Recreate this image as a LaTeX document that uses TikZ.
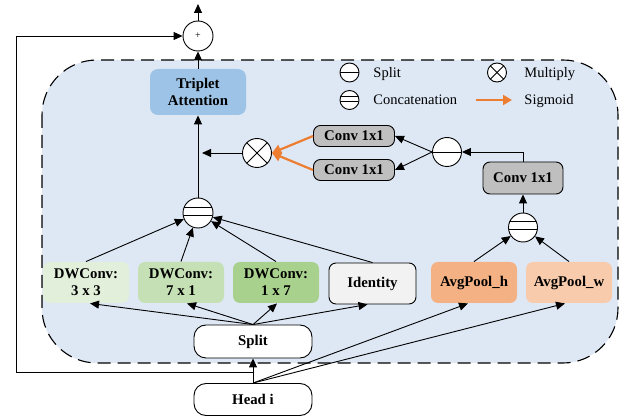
\documentclass[tikz,border=0pt]{standalone}
\usepackage{fontspec}
\setmainfont{Liberation Serif}
\usetikzlibrary{arrows.meta}
\definecolor{framebg}{RGB}{222,232,245}
\definecolor{tacol}{RGB}{157,195,230}
\definecolor{convcol}{RGB}{191,191,191}
\definecolor{dwa}{RGB}{226,239,218}
\definecolor{dwb}{RGB}{197,224,180}
\definecolor{dwc}{RGB}{169,209,142}
\definecolor{idcol}{RGB}{242,242,242}
\definecolor{phcol}{RGB}{244,177,131}
\definecolor{pwcol}{RGB}{248,203,173}
\definecolor{orcol}{RGB}{237,125,49}
\newcommand{\boxfont}{\fontsize{14.8}{17}\selectfont\bfseries}
\tikzset{
  box/.style={rectangle, rounded corners=7pt, minimum width=86pt, minimum height=41pt,
    inner sep=1pt, align=center, font=\boxfont},
  gbox/.style={box, draw, fill=convcol, minimum width=81pt, minimum height=21pt},
  obox/.style={box, draw, fill=white, rounded corners=12pt, minimum width=118pt, minimum height=32pt},
  circ/.style={circle, draw, fill=white, minimum size=30pt, inner sep=0pt},
  splc/.style={circ, path picture={
    \draw (path picture bounding box.west) -- (path picture bounding box.east);}},
  catc/.style 2 args={circ, path picture={
    \draw ([yshift=#1]path picture bounding box.west) -- ([yshift=#1]path picture bounding box.east);
    \draw ([yshift=#2]path picture bounding box.west) -- ([yshift=#2]path picture bounding box.east);}},
  mulc/.style={circ, path picture={
    \draw (path picture bounding box.north west) -- (path picture bounding box.south east);
    \draw (path picture bounding box.south west) -- (path picture bounding box.north east);}},
  sig/.style={draw=orcol, line width=2.2pt, -{Triangle[length=9pt,width=10pt]}, orcol},
  legend/.style={anchor=base west, inner sep=0pt},
}
\begin{document}
\begin{tikzpicture}[x=1pt, y=-1pt, >={Triangle[length=9pt,width=8pt]}, line width=0.9pt,
    font=\fontsize{14.5}{17}\selectfont]
  \useasboundingbox (0,0) rectangle (633,417);
  % Dashed frame
  \draw[fill=framebg, dash pattern=on 13pt off 7pt, line width=1.1pt, rounded corners=55pt]
    (42,60) rectangle (618,363);
  % Legend
  \node[splc, minimum size=19pt] (lsp) at (349.5,72.5) {};
  \node[legend] (lspt) at (373,77.5) {Split};
  \node[catc={3.5pt}{-1.5pt}, minimum size=19pt] (lcat) at (349.5,100) {};
  \node[legend] (lcatt) at (373,105) {Concatenation};
  \node[mulc, minimum size=19pt] (lmul) at (497,72.5) {};
  \node[legend] (lmult) at (524,77.5) {Multiply};
  \coordinate (lsa) at (476,100);
  \coordinate (lsb) at (512,100);
  \draw[sig] (lsa) -- (lsb);
  \node[legend] (lsigt) at (524,105) {Sigmoid};
  % Top part
  \node[circ, font=\fontsize{10}{10}\selectfont] (plus) at (198,36) {+};
  \node[box, fill=tacol, minimum width=96pt, minimum height=46pt, rounded corners=8pt] (ta) at (198,92) {Triplet\\Attention};
  \node[catc={6pt}{-2pt}] (cat) at (198,213) {};
  \node[mulc, minimum size=29pt] (mul) at (257,153) {};
  \node[gbox] (c1) at (354,136) {Conv 1x1};
  \node[gbox] (c2) at (354,170) {Conv 1x1};
  \node[splc, minimum size=29pt] (spl) at (447,152) {};
  \node[gbox, minimum width=80pt, minimum height=32pt] (cr) at (523,178) {Conv 1x1};
  \node[catc={6pt}{-2pt}, minimum size=29pt] (cat2) at (523,227.5) {};
  % Branches
  \foreach \n/\x/\c/\t in {d1/86/dwa/{3 x 3}, d2/181/dwb/{7 x 1}, d3/276/dwc/{1 x 7}}
    \node[box, fill=\c] (\n) at (\x,282.5) {DWConv:\\\t};
  \node[box, draw, fill=idcol, minimum width=87pt] (id) at (372.5,283.5) {Identity};
  \node[box, fill=phcol] (ph) at (474,282.5) {AvgPool\_h};
  \node[box, fill=pwcol] (pw) at (569,282.5) {AvgPool\_w};
  \node[obox, minimum height=33pt] (split) at (253,341.5) {Split};
  \node[obox] (head) at (253,399.5) {Head i};
  % Connectors
  \coordinate (out) at (198,4);
  \draw[->] (plus) -- (out);
  \draw[->] (ta) -- (plus);
  \draw[->] (cat) -- (ta);
  \coordinate (mj) at (202,153);
  \draw[->] (mul) -- (mj);
  \draw[sig] (c1.west) -- (mul.east);
  \draw[sig] (c2.west) -- (mul.east);
  \draw[->] (spl.west) -- (c1.east);
  \draw[->] (spl.west) -- (c2.east);
  \draw[->] (cr.north) |- (spl.east);
  \draw[->] (cat2) -- (cr);
  \draw[->] (ph.north) -- (cat2);
  \draw[->] (pw.north) -- (cat2);
  \foreach \n in {d1,d2,d3,id}
    \draw[->] (\n.north) -- (cat);
  \foreach \n/\s in {d1/4,d2/6,d3/1,id/-5}
    \draw[->] (split.north) -- ([xshift=\s pt]\n.south);
  \draw[->] (head.north) -- (split.south);
  \draw[->] (head.north) -- ([xshift=-6pt]ph.south);
  \draw[->] (head.north) -- ([xshift=-4pt]pw.south);
  % Skip connection
  \coordinate (sk) at (253,372);
  \coordinate (lc) at (16,36);
  \draw[->] (sk) -| (lc) -- (plus);
\end{tikzpicture}
\end{document}
